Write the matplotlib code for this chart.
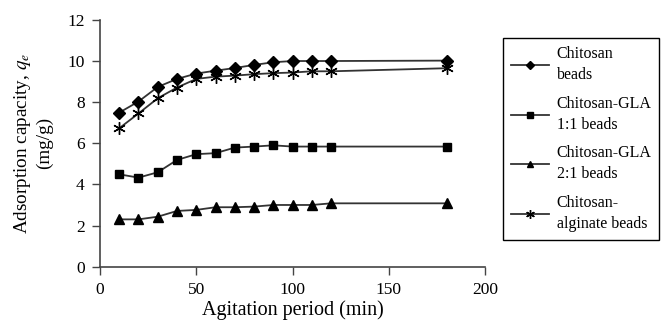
import matplotlib
matplotlib.use("Agg")
import matplotlib.pyplot as plt

# Agitation time (min) and adsorption capacity values
time_min = [10, 20, 30, 40, 50, 60, 70, 80, 90, 100, 110, 120, 180]
chitosan = [7.49, 8.03, 8.74, 9.13, 9.39, 9.53, 9.66, 9.81, 9.94, 10.0, 10.0, 10.0, 10.02]
gla_11 = [4.49, 4.33, 4.59, 5.19, 5.47, 5.52, 5.79, 5.84, 5.90, 5.84, 5.84, 5.84, 5.84]
gla_21 = [2.30, 2.30, 2.43, 2.71, 2.76, 2.89, 2.89, 2.92, 3.0, 3.0, 3.0, 3.08, 3.08]
alginate = [6.73, 7.45, 8.19, 8.71, 9.13, 9.24, 9.29, 9.36, 9.41, 9.44, 9.50, 9.50, 9.65]

labels = ["Chitosan\nbeads", "Chitosan-GLA\n1:1 beads", "Chitosan-GLA\n2:1 beads",
          "Chitosan-\nalginate beads"]

plt.rcParams['font.family'] = ['Liberation Serif', 'DejaVu Serif']
plt.rcParams['mathtext.fontset'] = 'stix'

fig = plt.figure(figsize=(6.62, 3.26), dpi=100)
ax = fig.add_axes([0.151, 0.182, 0.582, 0.757])

line_col = '#333333'
series = [(chitosan, 'D', 6), (gla_11, 's', 6), (gla_21, '^', 7), (alginate, (6, 2, 0), 9)]
for (vals, mk, ms), lab in zip(series, labels):
    ax.plot(time_min, vals, color=line_col, linewidth=1.3, marker=mk, markersize=ms,
            markerfacecolor='black', markeredgecolor='black', markeredgewidth=1.0,
            label=lab)

ax.set_xlim(0, 200)
ax.set_ylim(0, 12)
ax.set_xticks([0, 50, 100, 150, 200])
ax.set_yticks([0, 2, 4, 6, 8, 10, 12])
ax.spines['top'].set_visible(False)
ax.spines['right'].set_visible(False)
for s in ('left', 'bottom'):
    ax.spines[s].set_color('#444444')
    ax.spines[s].set_linewidth(1.2)
ax.tick_params(direction='out', length=6, width=1.0, color='#444444', labelsize=12.5, pad=5)

ax.set_xlabel('Agitation period (min)', fontsize=14.5, labelpad=2)
ax.set_ylabel('Adsorption capacity, $q_e$\n(mg/g)', fontsize=13.8, labelpad=10,
              linespacing=1.2)

leg = fig.legend(loc='upper left', bbox_to_anchor=(0.76, 0.883), fontsize=11.5,
                 frameon=True, fancybox=False, edgecolor='black', framealpha=1,
                 handlelength=2.4, handletextpad=0.45, labelspacing=0.8,
                 borderpad=0.5, borderaxespad=0, markerscale=0.7)
leg.get_frame().set_linewidth(1.0)
for t in leg.get_texts():
    t.set_linespacing(1.4)

fig.savefig('out.png', dpi=100)
